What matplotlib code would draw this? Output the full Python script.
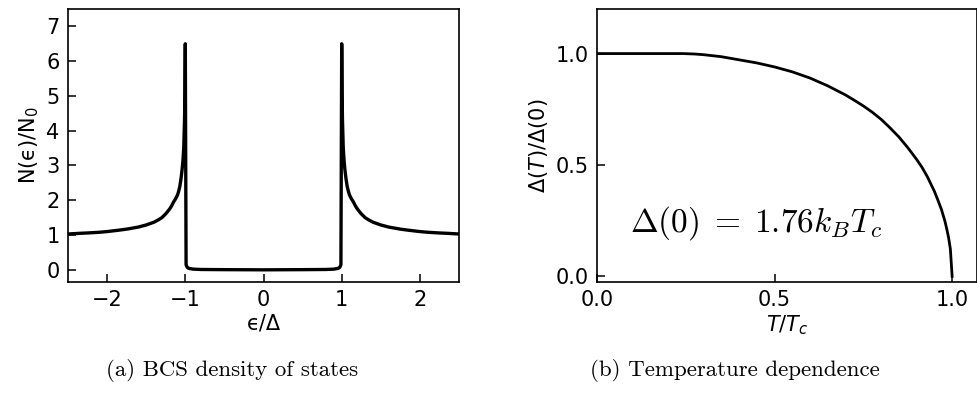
import matplotlib
matplotlib.use("Agg")
import matplotlib.pyplot as plt
import numpy as np

# BCS density of states, positive-energy half (mirrored for negative energies)
energy_pos = [0.0, 0.5, 0.8, 0.9, 0.95, 0.97, 0.98, 0.99, 1.0, 1.005, 1.01,
              1.02, 1.03, 1.04, 1.055, 1.07, 1.085, 1.1, 1.125, 1.15, 1.175,
              1.2, 1.25, 1.3, 1.35, 1.4, 1.45, 1.5, 1.6, 1.7, 1.75, 1.85,
              2.0, 2.1, 2.25, 2.35, 2.5]
dos_pos = [0.0, 0.005, 0.01, 0.02, 0.04, 0.06, 0.09, 0.15, 6.5, 5.0, 4.3,
           3.5, 3.15, 2.9, 2.62, 2.4, 2.26, 2.15, 2.04, 1.95, 1.84,
           1.75, 1.61, 1.5, 1.43, 1.37, 1.33, 1.29, 1.23, 1.19, 1.17, 1.14,
           1.10, 1.08, 1.06, 1.05, 1.03]

# Temperature dependence of the gap
t_reduced = [0.0, 0.1, 0.2, 0.243, 0.275, 0.3, 0.35, 0.4, 0.45, 0.5, 0.55,
             0.6, 0.65, 0.7, 0.725, 0.75, 0.775, 0.8, 0.825, 0.85, 0.875,
             0.9, 0.915, 0.93, 0.94, 0.95, 0.96, 0.97, 0.98, 0.985, 0.99,
             0.995, 1.0]
gap_ratio = [1.0, 1.0, 1.0, 1.0, 0.998, 0.995, 0.986, 0.972, 0.958, 0.94,
             0.918, 0.89, 0.855, 0.814, 0.79, 0.765, 0.737, 0.705, 0.667,
             0.626, 0.578, 0.525, 0.49, 0.448, 0.415, 0.382, 0.342, 0.30,
             0.246, 0.212, 0.174, 0.123, 0.0]

dos_xticks = [-2, -1, 0, 1, 2]
dos_yticks = [0, 1, 2, 3, 4, 5, 6, 7]
gap_ticks = [0.0, 0.5, 1.0]

e_pos = np.array(energy_pos)
n_pos = np.array(dos_pos)
energy = np.concatenate([-e_pos[:0:-1], e_pos])
dos = np.concatenate([n_pos[:0:-1], n_pos])

W, H = 978, 412
fig = plt.figure(figsize=(W / 100, H / 100), dpi=100)

tick_fs = 15
ax1 = fig.add_axes([68 / W, 1 - 282 / H, 391 / W, 273 / H])
ax2 = fig.add_axes([597 / W, 1 - 282 / H, 380 / W, 273 / H])

for ax in (ax1, ax2):
    ax.tick_params(direction="in", length=6, width=1.1, labelsize=tick_fs,
                   pad=6)
    for sp in ax.spines.values():
        sp.set_linewidth(1.2)

ax1.plot(energy, dos, color="black", lw=2.4, solid_joinstyle="round")
ax1.set_xlim(-2.5, 2.5)
ax1.set_ylim(-0.35, 7.5)
ax1.set_xticks(dos_xticks)
ax1.set_yticks(dos_yticks)
ax1.set_xlabel("ϵ/Δ", fontsize=tick_fs, labelpad=2)
ax1.set_ylabel("N(ϵ)/N$_0$", fontsize=tick_fs, labelpad=4)

ax2.plot(t_reduced, gap_ratio, color="black", lw=2.0,
         solid_joinstyle="round")
ax2.set_xlim(0, 1.07)
ax2.set_ylim(-0.025, 1.2)
ax2.set_xticks(gap_ticks)
ax2.set_yticks(gap_ticks)
ax2.set_xlabel("$T/T_c$", fontsize=tick_fs, labelpad=2)
ax2.set_ylabel(r"$\Delta(T)/\Delta(0)$", fontsize=tick_fs, labelpad=4)
ax2.text(0.094, 0.2, r"$\Delta(0)\;=\;1.76k_BT_c$", fontsize=24,
         math_fontfamily="cm", transform=ax2.transData)

fig.text(232 / W, 1 - 370 / H, "(a) BCS density of states", fontsize=16.5,
         family="cmr10", ha="center", va="center")
fig.text(735 / W, 1 - 370 / H, "(b) Temperature dependence", fontsize=16.5,
         family="cmr10", ha="center", va="center")

fig.savefig("out.png", dpi=100)
